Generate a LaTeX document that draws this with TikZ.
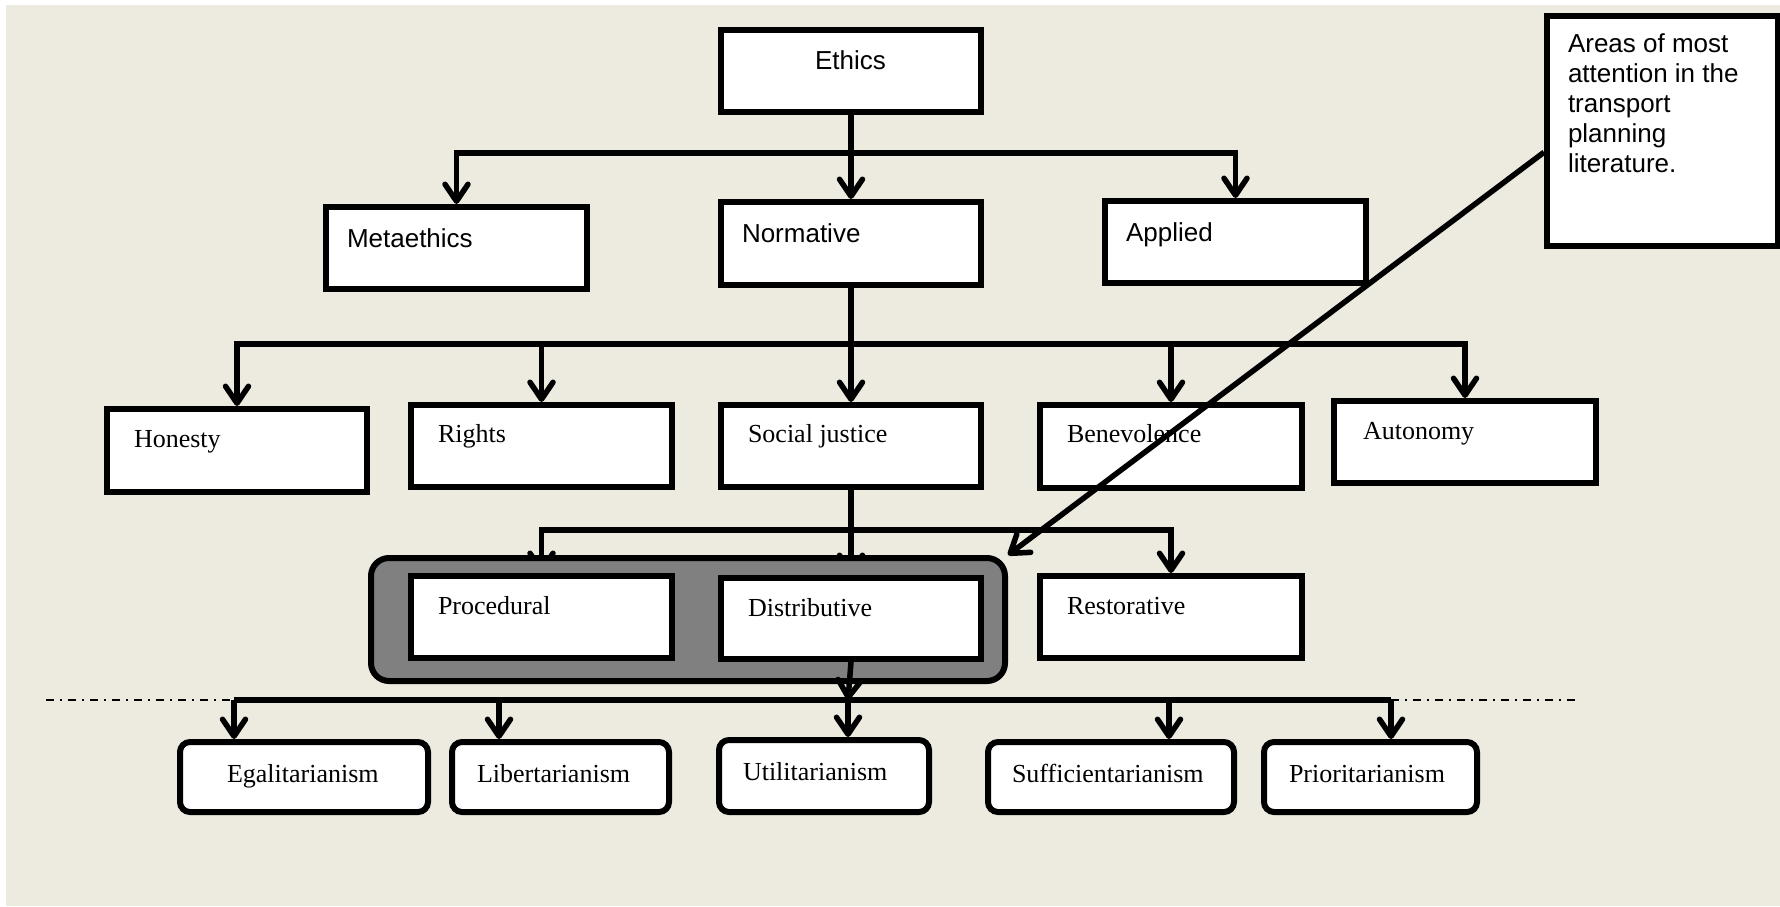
\documentclass[tikz,border=0pt]{standalone}
\usepackage{fontspec}
\setmainfont{Liberation Serif}
\newfontfamily\arialf{Liberation Sans}
\usetikzlibrary{arrows.meta,calc}

\definecolor{paper}{RGB}{237,235,224}
\definecolor{grpgray}{RGB}{128,128,128}

\pgfdeclarelayer{paperlayer}
\pgfdeclarelayer{wires}
\pgfdeclarelayer{group}
\pgfsetlayers{paperlayer,wires,group,main}

% box from outer corners (L,T)-(R,B), with text baseline and text start
\newcommand\tbox[9]{%
  \pgfmathsetmacro\tbW{#5-#3-6}%
  \pgfmathsetmacro\tbH{#7-#4-3}%
  \pgfmathsetmacro\tbD{#6-3-#7}%
  \pgfmathsetmacro\tbI{#8-#3-3}%
  \node[#2, anchor=north west, inner sep=0pt, text height=\tbH pt, text depth=\tbD pt]
    (#1) at (#3+3,#4+3) {\makebox[\tbW pt][l]{\hspace{\tbI pt}#9}};%
}

\tikzset{
  sansbox/.style={draw, line width=6pt, fill=white, font=\arialf\fontsize{26}{30}\selectfont},
  serifbox/.style={draw, line width=6pt, fill=white, font=\fontsize{26}{30}\selectfont},
  roundbox/.style={serifbox, rounded corners=10pt},
  wire/.style={line width=5.5pt},
  arr/.style={wire, -{Straight Barb[length=17pt,width=23pt,round]}},
  dashdot/.style={line width=2.2pt, dash pattern=on 8pt off 6pt on 2pt off 6pt}
}

\begin{document}
\begin{tikzpicture}[x=1pt,y=-1pt]
\useasboundingbox (0,0) rectangle (1780,906);
\begin{pgfonlayer}{paperlayer}
  \fill[white] (0,0) rectangle (1780,906);
  \fill[paper] (6,5) rectangle (1780,906);
\end{pgfonlayer}

% top levels
\tbox{ethics}{sansbox}{715}{24}{981}{112}{66}{812}{Ethics}
\tbox{meta}{sansbox}{320}{201}{587}{289}{244}{344}{Metaethics}
\tbox{norm}{sansbox}{715}{196}{981}{285}{239}{739}{Normative}
\tbox{appl}{sansbox}{1099}{195}{1366}{283}{238}{1123}{Applied}
\tbox{areas}{sansbox}{1541}{10}{1778}{246}{49}{1565}{\parbox[t]{190pt}{\raggedright Areas of most\\attention in the\\transport\\planning\\literature.}}

% principles
\tbox{honesty}{serifbox}{101}{403}{367}{492}{444}{131}{Honesty}
\tbox{rights}{serifbox}{405}{399}{672}{487}{439}{435}{Rights}
\tbox{social}{serifbox}{715}{399}{981}{487}{439}{745}{Social justice}
\tbox{bene}{serifbox}{1034}{399}{1302}{488}{439}{1064}{Benevolence}
\tbox{auto}{serifbox}{1328}{395}{1596}{483}{436}{1360}{Autonomy}

% kinds of justice
\begin{pgfonlayer}{group}
  \node[draw, line width=6pt, fill=grpgray, rounded corners=18pt, anchor=north west,
        inner sep=0pt, minimum width=634pt, minimum height=123pt] (grp) at (368,555) {};
\end{pgfonlayer}
\tbox{proc}{serifbox}{405}{570}{672}{658}{611}{435}{Procedural}
\tbox{dist}{serifbox}{715}{572}{981}{659}{613}{745}{Distributive}
\tbox{rest}{serifbox}{1034}{570}{1302}{658}{611}{1064}{Restorative}

% theories
\tbox{egal}{roundbox}{174}{736}{428}{812}{779}{224}{Egalitarianism}
\tbox{lib}{roundbox}{446}{736}{669}{812}{779}{474}{Libertarianism}
\tbox{util}{roundbox}{713}{734}{929}{812}{777}{740}{Utilitarianism}
\tbox{suff}{roundbox}{982}{736}{1234}{812}{779}{1009}{Sufficientarianism}
\tbox{prio}{roundbox}{1258}{736}{1477}{812}{779}{1286}{Prioritarianism}

% junctions of the tree
\coordinate (b1) at (848,153);
\coordinate (b2) at (848,344);
\coordinate (b3) at (848,530);
\coordinate (b4) at (848,700);
\coordinate (j4a) at (234,700);
\coordinate (j4b) at (499,700);
\coordinate (j4d) at (1169,700);
\coordinate (j4e) at (1391,700);
\coordinate (dl) at (46,700);
\coordinate (dr) at (1575,700);

\begin{pgfonlayer}{wires}
  \draw[arr] (ethics.south) -- (norm.north);
  \draw[arr] (b1) -| (meta.north);
  \draw[arr] (b1) -| (appl.north);

  \draw[arr] (norm.south) -- (social.north);
  \draw[arr] (b2) -| (honesty.north);
  \draw[arr] (b2) -| (rights.north);
  \draw[arr] (b2) -| (bene.north);
  \draw[arr] (b2) -| (auto.north);

  \draw[arr] (social.south) -- (dist.north);
  \draw[arr] (b3) -| (proc.north);
  \draw[arr] (b3) -| (rest.north);

  \draw[wire] (j4a) -- (j4e);
  \draw[arr] (j4a) -- (j4a |- egal.north);
  \draw[arr] (j4b) -- (j4b |- lib.north);
  \draw[arr] (b4) -- (b4 |- util.north);
  \draw[arr] (j4d) -- (j4d |- suff.north);
  \draw[arr] (j4e) -- (j4e |- prio.north);
  \draw[dashdot] (dl) -- (j4a);
  \draw[dashdot] (j4e) -- (dr);
\end{pgfonlayer}

\draw[arr] (dist.south) -- (b4);
\draw[arr] ($(areas.south west)!0.41!(areas.north west)$) -- (grp.north east);
\end{tikzpicture}
\end{document}
